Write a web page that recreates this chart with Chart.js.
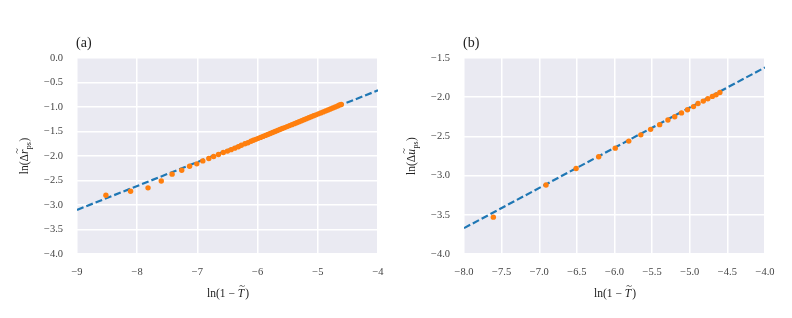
<!DOCTYPE html>
<html>
<head>
<meta charset="utf-8">
<script src="https://cdn.jsdelivr.net/npm/chart.js@4"></script>
<style>
    body { margin: 0; background: #ffffff; }
    #wrap { position: relative; width: 792px; height: 318px; }
    .panel { position: absolute; top: 0; width: 396px; height: 318px; }
    #panelA { left: 0; }
    #panelB { left: 387px; }
</style>
</head>
<body>
<div id="wrap">
    <div class="panel" id="panelA"><canvas id="chartA" width="396" height="318"></canvas></div>
    <div class="panel" id="panelB"><canvas id="chartB" width="396" height="318"></canvas></div>
</div>
<script>
const leftX = [-8.52, -8.11, -7.82, -7.60, -7.42, -7.26, -7.13, -7.01, -6.91, -6.81,
    -6.73, -6.65, -6.57, -6.50, -6.44, -6.38, -6.32, -6.27, -6.21, -6.16,
    -6.11, -6.07, -6.03, -5.99, -5.95, -5.91, -5.87, -5.83, -5.79, -5.75,
    -5.71, -5.67, -5.63, -5.59, -5.55, -5.51, -5.47, -5.43, -5.39, -5.35,
    -5.31, -5.27, -5.23, -5.19, -5.15, -5.11, -5.07, -5.03, -4.99, -4.95,
    -4.91, -4.87, -4.83, -4.79, -4.75, -4.71, -4.67, -4.64, -4.61];
const leftY = [-2.80, -2.72, -2.65, -2.51, -2.37, -2.29, -2.21, -2.16, -2.10, -2.05,
    -2.01, -1.97, -1.93, -1.90, -1.87, -1.84, -1.81, -1.78, -1.75, -1.73,
    -1.70, -1.68, -1.66, -1.64, -1.62, -1.60, -1.58, -1.56, -1.54, -1.52,
    -1.50, -1.48, -1.46, -1.44, -1.42, -1.40, -1.38, -1.36, -1.34, -1.32,
    -1.30, -1.28, -1.26, -1.24, -1.22, -1.20, -1.18, -1.16, -1.14, -1.12,
    -1.10, -1.08, -1.06, -1.04, -1.02, -1.00, -0.98, -0.96, -0.95];
const leftFitX = [-9, -4];
const leftFitY = [-3.10, -0.66];
const leftXTicks = [-9, -8, -7, -6, -5, -4];
const leftYTicks = [0, -0.5, -1, -1.5, -2, -2.5, -3, -3.5, -4];

// Panel (b): measured points
const rightX = [-7.61, -6.91, -6.51, -6.21, -5.99, -5.81, -5.65, -5.52, -5.40, -5.29,
    -5.20, -5.11, -5.03, -4.95, -4.89, -4.82, -4.76, -4.70, -4.65, -4.60];
const rightY = [-3.53, -3.12, -2.91, -2.76, -2.65, -2.56, -2.48, -2.41, -2.35, -2.29,
    -2.25, -2.20, -2.16, -2.12, -2.08, -2.05, -2.02, -1.99, -1.97, -1.94];
const rightFitX = [-8, -4];
const rightFitY = [-3.67, -1.62];
const rightXTicks = [-8, -7.5, -7, -6.5, -6, -5.5, -5, -4.5, -4];
const rightYTicks = [-1.5, -2, -2.5, -3, -3.5, -4];

const SERIF = '"Liberation Serif", "DejaVu Serif", serif';
const TEXT_COLOR = '#444444';

function toPoints(xs, ys) {
    return xs.map((x, i) => ({ x: x, y: ys[i] }));
}

function fmt(v, decimals) {
    const s = Math.abs(v).toFixed(decimals);
    return (v < 0 ? '\u2212' : '') + s;
}

// Grey plot background (seaborn darkgrid look)
const plotBackground = {
    id: 'plotBackground',
    beforeDraw(chart) {
        const a = chart.chartArea;
        const ctx = chart.ctx;
        ctx.save();
        ctx.fillStyle = '#eaeaf2';
        ctx.fillRect(a.left, a.top, a.right - a.left, a.bottom - a.top);
        ctx.restore();
    }
};

// Draw a letter with a tilde on top, returns the width used
function drawTildeLetter(ctx, letter, x, y, size) {
    ctx.font = 'italic ' + size + 'px ' + SERIF;
    ctx.textAlign = 'left';
    ctx.fillText(letter, x, y);
    const w = ctx.measureText(letter).width;
    ctx.font = (size - 1) + 'px ' + SERIF;
    const tw = ctx.measureText('~').width;
    ctx.fillText('~', x + w / 2 - tw / 2 + 1, y - size * 0.68);
    return w;
}

// Axis titles and panel letter
const panelLabels = {
    id: 'panelLabels',
    afterDraw(chart, args, opts) {
        const a = chart.chartArea;
        const ctx = chart.ctx;
        const size = 11.5;
        ctx.save();
        ctx.fillStyle = '#222222';
        ctx.textBaseline = 'alphabetic';

        // panel letter
        ctx.font = '14px ' + SERIF;
        ctx.textAlign = 'left';
        ctx.fillText(opts.letter, a.left - 1, 47);

        // x title: ln(1 − T~)
        ctx.font = size + 'px ' + SERIF;
        const p1 = 'ln(1 \u2212 ';
        const w1 = ctx.measureText(p1).width;
        ctx.font = 'italic ' + size + 'px ' + SERIF;
        const wT = ctx.measureText('T').width;
        ctx.font = size + 'px ' + SERIF;
        const w2 = ctx.measureText(')').width;
        let x = (a.left + a.right) / 2 - (w1 + wT + w2) / 2;
        const yb = 297;
        ctx.fillText(p1, x, yb);
        x += w1;
        x += drawTildeLetter(ctx, 'T', x, yb, size);
        ctx.font = size + 'px ' + SERIF;
        ctx.fillText(')', x + 1, yb);

        // y title: ln(Δ r~ _ps) rotated
        ctx.translate(28, (a.top + a.bottom) / 2);
        ctx.rotate(-Math.PI / 2);
        ctx.font = size + 'px ' + SERIF;
        const q1 = 'ln(\u0394';
        const wq1 = ctx.measureText(q1).width;
        ctx.font = 'italic ' + size + 'px ' + SERIF;
        const wr = ctx.measureText(opts.sym).width;
        ctx.font = '8px ' + SERIF;
        const ws = ctx.measureText('ps').width;
        ctx.font = size + 'px ' + SERIF;
        const wc = ctx.measureText(')').width;
        let yx = -(wq1 + wr + ws + wc + 1) / 2;
        ctx.fillText(q1, yx, 0);
        yx += wq1;
        yx += drawTildeLetter(ctx, opts.sym, yx, 0, size);
        ctx.font = '8px ' + SERIF;
        ctx.fillText('ps', yx + 0.5, 3);
        yx += ws + 1;
        ctx.font = size + 'px ' + SERIF;
        ctx.fillText(')', yx, 0);
        ctx.restore();
    }
};

function makeChart(canvasId, pts, fit, xTicks, yTicks, xDec, letter, sym) {
    const ctx = document.getElementById(canvasId).getContext('2d');
    return new Chart(ctx, {
        data: {
            datasets: [{
                type: 'scatter',
                data: pts,
                backgroundColor: '#ff7f0e',
                borderWidth: 0,
                pointRadius: 2.7,
                order: 1
            }, {
                type: 'line',
                data: fit,
                borderColor: '#1f77b4',
                borderWidth: 2.2,
                borderDash: [7, 3],
                pointRadius: 0,
                fill: false,
                order: 2
            }]
        },
        options: {
            responsive: false,
            animation: false,
            devicePixelRatio: 1,
            layout: { padding: { left: 0, right: 18, top: 58, bottom: 0 } },
            plugins: {
                legend: { display: false },
                tooltip: { enabled: false },
                panelLabels: { letter: letter, sym: sym }
            },
            scales: {
                x: {
                    type: 'linear',
                    min: xTicks[0],
                    max: xTicks[xTicks.length - 1],
                    afterBuildTicks: s => { s.ticks = xTicks.map(v => ({ value: v })); },
                    afterFit: s => { s.height = 64; s.paddingLeft = 0; s.paddingRight = 0; },
                    grid: { color: '#ffffff', lineWidth: 1.5, drawTicks: false },
                    border: { display: false },
                    ticks: {
                        padding: 12,
                        color: TEXT_COLOR,
                        font: { family: SERIF, size: 10.5 },
                        maxRotation: 0,
                        autoSkip: false,
                        callback: v => fmt(v, xDec)
                    }
                },
                y: {
                    type: 'linear',
                    min: yTicks[yTicks.length - 1],
                    max: yTicks[0],
                    afterBuildTicks: s => { s.ticks = yTicks.map(v => ({ value: v })); },
                    afterFit: s => { s.width = 77; s.paddingTop = 0; s.paddingBottom = 0; },
                    grid: { color: '#ffffff', lineWidth: 1.5, drawTicks: false },
                    border: { display: false },
                    ticks: {
                        padding: 14,
                        color: TEXT_COLOR,
                        font: { family: SERIF, size: 10.5 },
                        autoSkip: false,
                        callback: v => fmt(v, 1)
                    }
                }
            }
        },
        plugins: [plotBackground, panelLabels]
    });
}

document.addEventListener('DOMContentLoaded', function() {
    makeChart('chartA', toPoints(leftX, leftY), toPoints(leftFitX, leftFitY),
        leftXTicks, leftYTicks, 0, '(a)', 'r');
    makeChart('chartB', toPoints(rightX, rightY), toPoints(rightFitX, rightFitY),
        rightXTicks, rightYTicks, 1, '(b)', 'u');
});
</script>
</body>
</html>
